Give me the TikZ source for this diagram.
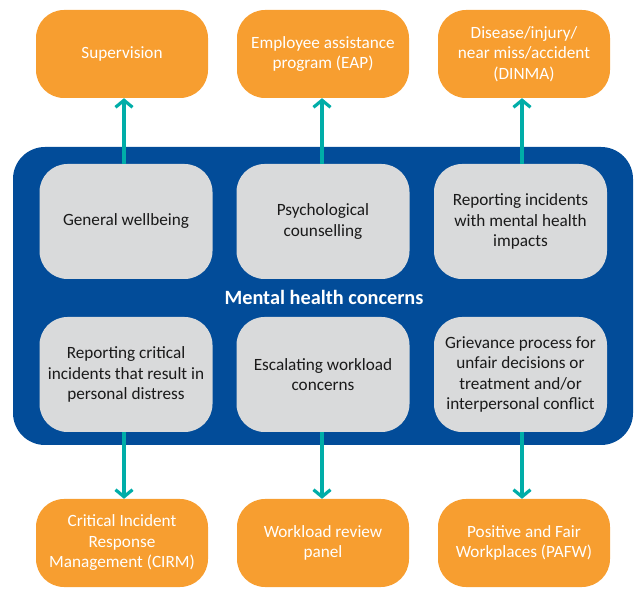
\documentclass[tikz,border=0pt]{standalone}
\usepackage{fontspec}
\setmainfont{Carlito}
\usetikzlibrary{arrows.meta}
\definecolor{orangebox}{HTML}{F79E30}
\definecolor{bluebg}{HTML}{024C99}
\definecolor{graybox}{HTML}{D9DADB}
\definecolor{tealarrow}{HTML}{00ADA8}
\definecolor{darktext}{HTML}{1A1A1A}
\tikzset{
  orangenode/.style={fill=orangebox, rounded corners=28pt, minimum width=172pt, minimum height=88pt,
    text=white, align=center, inner sep=2pt, font=\fontsize{17.2}{20.5}\selectfont},
  graynode/.style={fill=graybox, rounded corners=28pt, minimum width=173pt, minimum height=115pt,
    text=darktext, align=center, inner sep=2pt, font=\fontsize{17.2}{20.5}\selectfont},
  linkarrow/.style={draw=tealarrow, line width=3.2pt, -{Straight Barb[length=7pt,width=17pt]}},
}
\begin{document}
\begin{tikzpicture}
\useasboundingbox (0,0) rectangle (642pt,594pt);
\fill[bluebg, rounded corners=32pt] (13pt,149pt) rectangle (633pt,447pt);
\node[font=\fontsize{20.3}{23}\selectfont\bfseries, text=white] (title) at (324pt,297pt) {Mental health concerns};
% top orange
\node[orangenode] (sup) at (122pt,540pt) {Supervision};
\node[orangenode] (eap) at (323pt,540pt) {Employee assistance\\program (EAP)};
\node[orangenode] (dinma) at (524pt,540pt) {Disease/injury/\\near miss/accident\\(DINMA)};
% gray row 1
\node[graynode] (gw) at (126pt,372.5pt) {General wellbeing};
\node[graynode] (pc) at (323pt,372.5pt) {Psychological\\counselling};
\node[graynode] (ri) at (520.5pt,372.5pt) {Reporting incidents\\with mental health\\impacts};
% gray row 2
\node[graynode] (rc) at (126pt,219.5pt) {Reporting critical\\incidents that result in\\personal distress};
\node[graynode] (ew) at (323pt,219.5pt) {Escalating workload\\concerns};
\node[graynode] (gp) at (520.5pt,219.5pt) {Grievance process for\\unfair decisions or\\treatment and/or\\interpersonal conflict};
% bottom orange
\node[orangenode] (cirm) at (122pt,51pt) {Critical Incident\\Response\\Management (CIRM)};
\node[orangenode] (wrp) at (323pt,51pt) {Workload review\\panel};
\node[orangenode] (pafw) at (524pt,51pt) {Positive and Fair\\Workplaces (PAFW)};
% arrows
\draw[linkarrow] ([xshift=-2pt]gw.north) -- ([xshift=-2pt]gw.north |- sup.south);
\draw[linkarrow] ([xshift=-1pt]pc.north) -- ([xshift=-1pt]pc.north |- eap.south);
\draw[linkarrow] ([xshift=1.5pt]ri.north) -- ([xshift=1.5pt]ri.north |- dinma.south);
\draw[linkarrow] ([xshift=-2pt]rc.south) -- ([xshift=-2pt]rc.south |- cirm.north);
\draw[linkarrow] ([xshift=-1pt]ew.south) -- ([xshift=-1pt]ew.south |- wrp.north);
\draw[linkarrow] ([xshift=1.5pt]gp.south) -- ([xshift=1.5pt]gp.south |- pafw.north);
\end{tikzpicture}
\end{document}
